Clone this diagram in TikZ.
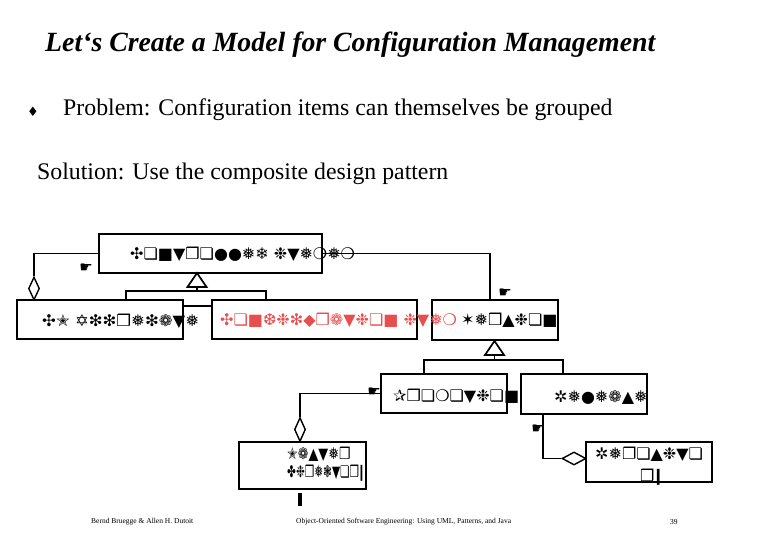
\documentclass[tikz,border=0pt]{standalone}
\usepackage{fontspec}
\usepackage{graphicx}
\setmainfont{Liberation Serif}
\newfontfamily\dingfont{DejaVu Sans}
\usetikzlibrary{positioning,shapes.geometric}
\definecolor{cfgred}{RGB}{232,78,78}
\tikzset{
  umlbox/.style={draw, line width=1.8pt, rectangle, inner sep=0pt},
  line/.style={line width=1.7pt},
  glyphs/.style={font=\dingfont\fontsize{16}{18}\selectfont, inner sep=0pt, anchor=west},
  aggr/.style={draw, diamond, line width=1.4pt, fill=white, inner sep=0pt},
  mult/.style={font=\dingfont\fontsize{15}{15}\selectfont, inner sep=0pt},
}

\begin{document}
\begin{tikzpicture}[x=1pt,y=-1pt]
		\useasboundingbox (0,0) rectangle (780,540);
		
		% slide text
		\node[anchor=west, inner sep=0pt, font=\fontsize{27.8}{30}\selectfont\bfseries\itshape] (title) at (45,45) {Let‘s Create a Model for Configuration Management};
		\node[inner sep=0pt, font=\dingfont\fontsize{13}{13}\selectfont] (bullet) at (33,112) {♦};
		\node[anchor=west, inner sep=0pt, font=\fontsize{23.8}{26}\selectfont] (problem) at (63,110) {Problem: Configuration items can themselves be grouped};
		\node[anchor=west, inner sep=0pt, font=\fontsize{23.8}{26}\selectfont] (solution) at (37,174) {Solution: Use the composite design pattern};
		
		% class boxes
		\node[umlbox, minimum width=223pt, minimum height=39pt] (ctrl) at (210.5,253.5) {};
		\node[umlbox, minimum width=166pt, minimum height=39pt] (agg) at (100,319.5) {};
		\node[umlbox, minimum width=205pt, minimum height=39pt] (cfg) at (314.5,319.5) {};
		\node[umlbox, minimum width=126pt, minimum height=40pt] (ver) at (495,320) {};
		\node[umlbox, minimum width=126pt, minimum height=39pt] (prom) at (444,393.5) {};
		\node[umlbox, minimum width=126pt, minimum height=40pt] (rel) at (584,394) {};
		\node[umlbox, minimum width=127pt, minimum height=47pt] (mdir) at (302.5,465.5) {};
		\node[umlbox, minimum width=126pt, minimum height=40pt] (repo) at (649,462) {};
		
		% box labels
		\node[glyphs] (ctrltxt) at (130,254) {✣❏■▼❒❏●●❅❄ ❉▼❅❍❅❍};
		\node[glyphs] (aggtxt) at (42,321) {\scalebox{1.03}[1]{✣✭ ✡❇❇❒❅❇❁▼❅}};
		\node[glyphs, text=cfgred] (cfgtxt) at (220,320) {✣❏■❆❉❇◆❒❁▼❉❏■ ❉▼❅❍};
		\node[glyphs] (vertxt) at (461,320) {✶❅❒▲❉❏■};
		\node[glyphs] (promtxt) at (393,396) {✰❒❏❍❏▼❉❏■};
		\node[glyphs] (reltxt) at (554,398) {✲❅●❅❁▲❅};
		\node[glyphs] (mdirtxt1) at (287,454) {\scalebox{0.8}[1]{✭❁▲▼❅❒}};
		\node[glyphs] (mdirtxt2) at (287,473) {\scalebox{0.66}[1]{✤❉❒❅❃▼❏❒\kern-3pt❙}};
		\node[glyphs] (repotxt1) at (595,454) {✲❅❐❏▲❉▼❏};
		\node[glyphs] (repotxt2) at (640,477) {❒\kern-3pt❙};
		
		% multiplicities
		\node[mult] (m1) at (86,268) {☛};
		\node[mult] (m2) at (505,293) {☛};
		\node[mult] (m3) at (374,392) {☛};
		\node[mult] (m4) at (538,429) {☛};
		
		% aggregation diamonds
		\node[aggr, minimum width=11pt, minimum height=23pt] (aggdia) at (34,288.5) {};
		\node[aggr, minimum width=11pt, minimum height=24pt] (mdia) at (300,429.5) {};
		\node[aggr, minimum width=24pt, minimum height=13pt] (repodia) at (574,458.5) {};
		
		% composite: controlled item
		\draw[line] (ctrl.west) -| (aggdia.north);
		\draw[line] (ctrl.east) -| ([xshift=-5pt]ver.north);
		\coordinate (tri1) at (197,273);
		\coordinate (tri1b) at (197,287);
		\coordinate (br1) at (126,291);
		\coordinate (br2) at (266,291);
		\coordinate (gapy) at (0,306);
		\draw[line, line join=miter] (tri1) -- ++(-9.5,14) -- ++(19,0) -- cycle;
		\draw[line] (tri1b) -- (tri1b |- br1);
		\draw[line] (agg.north -| br1) -- (br1) -- (br2) -- (cfg.north -| br2);
		\draw[line] (agg.east |- gapy) -- (cfg.west |- gapy);
		
		% version hierarchy
		\coordinate (tri2) at (494.5,341);
		\coordinate (tri2b) at (494.5,355);
		\coordinate (br3) at (424,360);
		\coordinate (br4) at (563,360);
		\draw[line, line join=miter] (tri2) -- ++(-9.5,14) -- ++(19,0) -- cycle;
		\draw[line] (tri2b) -- (tri2b |- br3);
		\draw[line] (prom.north -| br3) -- (br3) -- (br4) -- (rel.north -| br4);
		
		% associations
		\draw[line] (prom.west) -| (mdia.north);
		\coordinate (rl) at (543,458.5);
		\draw[line width=2.4pt] (rel.south -| rl) -- (rl);
		\draw[line] (rl) -- (repodia.west);
		\coordinate (stub) at (300,493);
		\draw[line width=4pt] (stub) -- ++(0,13);
		
		% footer
		\node[anchor=west, inner sep=0pt, font=\fontsize{7.5}{8}\selectfont] (authors) at (91,522) {Bernd Bruegge \& Allen H. Dutoit};
		\node[anchor=west, inner sep=0pt, font=\fontsize{7.5}{8}\selectfont] (book) at (296,522) {Object-Oriented Software Engineering: Using UML, Patterns, and Java};
		\node[anchor=west, inner sep=0pt, font=\fontsize{7.5}{8}\selectfont] (page) at (670,522) {39};
		
	\end{tikzpicture}
\end{document}
